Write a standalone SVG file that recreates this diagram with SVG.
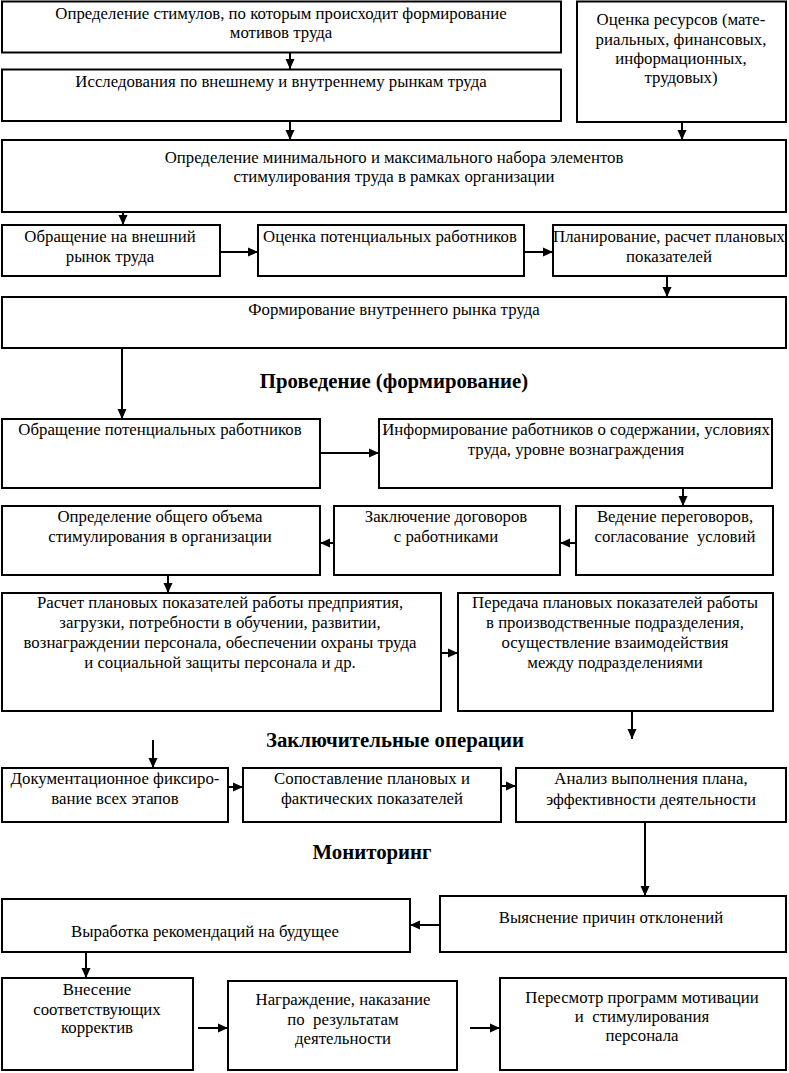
<svg xmlns="http://www.w3.org/2000/svg" width="789" height="1073" viewBox="0 0 789 1073">
<style>
rect{fill:#fff;stroke:#000;stroke-width:2}
text{font-family:"Liberation Serif","Times New Roman",serif;font-size:16.8px;fill:#000;text-anchor:middle}
text.h{font-weight:bold;font-size:20.8px}
#connectors path{fill:none;stroke:#000;stroke-width:2}
</style>
<defs>
<marker id="ah" markerUnits="userSpaceOnUse" markerWidth="11" markerHeight="10" refX="10" refY="5" orient="auto">
<path d="M0,0.5 L10,5 L0,9.5 z" fill="#000"/>
</marker>
</defs>
<rect x="0" y="0" width="789" height="1073" style="fill:#fff;stroke:none"/>
<g id="connectors">
<path d="M290,53 L290,69" marker-end="url(#ah)"/>
<path d="M290,121 L290,140" marker-end="url(#ah)"/>
<path d="M682,122 L682,140" marker-end="url(#ah)"/>
<path d="M123,212 L123,225" marker-end="url(#ah)"/>
<path d="M220,252 L258,252" marker-end="url(#ah)"/>
<path d="M524,252 L553,252" marker-end="url(#ah)"/>
<path d="M667,276 L667,297" marker-end="url(#ah)"/>
<path d="M122,348 L122,419" marker-end="url(#ah)"/>
<path d="M320,453 L379,453" marker-end="url(#ah)"/>
<path d="M683,488 L683,506" marker-end="url(#ah)"/>
<path d="M576,543 L560,543" marker-end="url(#ah)"/>
<path d="M334,543 L320,543" marker-end="url(#ah)"/>
<path d="M168,575 L168,593" marker-end="url(#ah)"/>
<path d="M441,653 L458,653" marker-end="url(#ah)"/>
<path d="M632,711 L632,739" marker-end="url(#ah)"/>
<path d="M153,740 L153,768" marker-end="url(#ah)"/>
<path d="M228,787 L243,787" marker-end="url(#ah)"/>
<path d="M501,786 L516,786" marker-end="url(#ah)"/>
<path d="M645,822 L645,896" marker-end="url(#ah)"/>
<path d="M440,925 L410,925" marker-end="url(#ah)"/>
<path d="M86,952 L86,978" marker-end="url(#ah)"/>
<path d="M198,1028 L228,1028" marker-end="url(#ah)"/>
<path d="M470,1028 L500,1028" marker-end="url(#ah)"/>
</g>
<g id="nA"><rect x="2" y="1.5" width="559" height="51"/>
<text x="281" y="19">Определение стимулов, по которым происходит формирование</text>
<text x="281" y="38">мотивов труда</text></g>
<g id="nB"><rect x="577" y="1.5" width="209" height="120.5"/>
<text x="681" y="25">Оценка ресурсов (мате-</text>
<text x="681" y="45">риальных, финансовых,</text>
<text x="681" y="64">информационных,</text>
<text x="681" y="83">трудовых)</text></g>
<g id="nC"><rect x="2" y="69.5" width="559" height="51.5"/>
<text x="281" y="87">Исследования по внешнему и внутреннему рынкам труда</text></g>
<g id="nD"><rect x="2" y="140" width="784" height="72"/>
<text x="394" y="163">Определение минимального и максимального набора элементов</text>
<text x="394" y="182">стимулирования труда в рамках организации</text></g>
<g id="nE"><rect x="2" y="225" width="218" height="51"/>
<text x="110" y="242">Обращение на внешний</text>
<text x="110" y="262">рынок труда</text></g>
<g id="nF"><rect x="258" y="225" width="266" height="51"/>
<text x="390" y="242">Оценка потенциальных работников</text></g>
<g id="nG"><rect x="553" y="225" width="233" height="51"/>
<text x="669" y="242">Планирование, расчет плановых</text>
<text x="669" y="262">показателей</text></g>
<g id="nH"><rect x="2" y="297" width="784" height="51"/>
<text x="394" y="315">Формирование внутреннего рынка труда</text></g>
<text class="h" x="394" y="388">Проведение (формирование)</text>
<g id="nI"><rect x="2" y="419" width="318" height="69"/>
<text x="160" y="435">Обращение потенциальных работников</text></g>
<g id="nJ"><rect x="379" y="419" width="393" height="69"/>
<text x="576" y="435">Информирование работников о содержании, условиях</text>
<text x="576" y="455">труда, уровне вознаграждения</text></g>
<g id="nK"><rect x="576" y="506" width="197" height="69"/>
<text x="675" y="522">Ведение переговоров,</text>
<text x="675" y="542" xml:space="preserve">согласование  условий</text></g>
<g id="nL"><rect x="334" y="506" width="226" height="69"/>
<text x="446" y="522">Заключение договоров</text>
<text x="446" y="542">с работниками</text></g>
<g id="nM"><rect x="2" y="506" width="318" height="69"/>
<text x="160" y="522">Определение общего объема</text>
<text x="160" y="542">стимулирования в организации</text></g>
<g id="nN"><rect x="2" y="593" width="439" height="118"/>
<text x="220" y="608">Расчет плановых показателей работы предприятия,</text>
<text x="220" y="628">загрузки, потребности в обучении, развитии,</text>
<text x="220" y="648">вознаграждении персонала, обеспечении охраны труда</text>
<text x="220" y="668">и социальной защиты персонала и др.</text></g>
<g id="nO"><rect x="458" y="593" width="315" height="118"/>
<text x="615" y="608">Передача плановых показателей работы</text>
<text x="615" y="628">в производственные подразделения,</text>
<text x="615" y="648">осуществление взаимодействия</text>
<text x="615" y="668">между подразделениями</text></g>
<text class="h" x="395" y="747">Заключительные операции</text>
<g id="nP"><rect x="2" y="768" width="226" height="54"/>
<text x="115" y="784">Документационное фиксиро-</text>
<text x="115" y="804">вание всех этапов</text></g>
<g id="nQ"><rect x="243" y="768" width="258" height="54"/>
<text x="372" y="784">Сопоставление плановых и</text>
<text x="372" y="804">фактических показателей</text></g>
<g id="nR"><rect x="516" y="768" width="270" height="54"/>
<text x="651" y="784">Анализ выполнения плана,</text>
<text x="651" y="805">эффективности деятельности</text></g>
<text class="h" x="372" y="859">Мониторинг</text>
<g id="nS"><rect x="440" y="896" width="346" height="56"/>
<text x="611" y="923">Выяснение причин отклонений</text></g>
<g id="nT"><rect x="2" y="899" width="408" height="53"/>
<text x="205" y="937">Выработка рекомендаций на будущее</text></g>
<g id="nU"><rect x="2" y="978" width="191" height="92"/>
<text x="97" y="995">Внесение</text>
<text x="97" y="1015">соответствующих</text>
<text x="97" y="1033">корректив</text></g>
<g id="nV"><rect x="228" y="981" width="229" height="89"/>
<text x="343" y="1005">Награждение, наказание</text>
<text x="343" y="1025" xml:space="preserve">по  результатам</text>
<text x="343" y="1044">деятельности</text></g>
<g id="nW"><rect x="500" y="978" width="286" height="92"/>
<text x="642" y="1003">Пересмотр программ мотивации</text>
<text x="642" y="1022" xml:space="preserve">и  стимулирования</text>
<text x="642" y="1041">персонала</text></g>
</svg>
